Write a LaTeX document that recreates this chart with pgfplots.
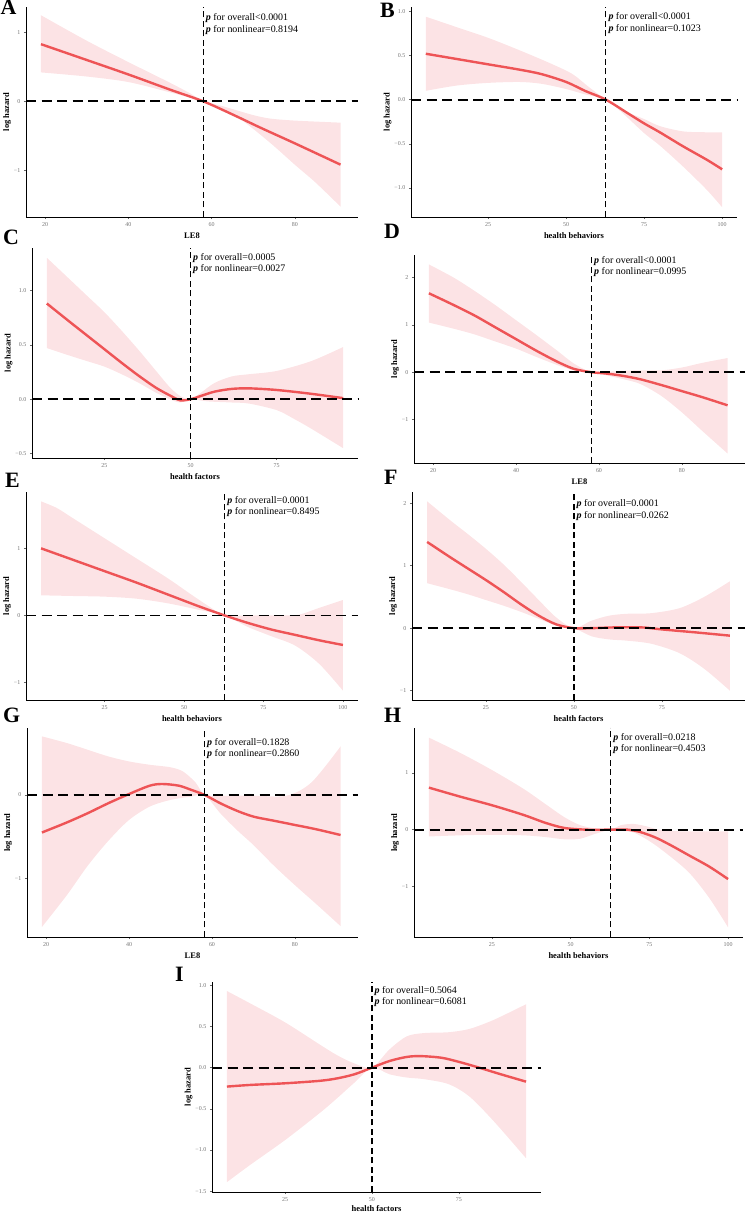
\documentclass[border=0pt]{standalone}
\usepackage{fontspec}
\setmainfont{Liberation Serif}
\usepackage{pgfplots}
\pgfplotsset{compat=1.18}
\usepgfplotslibrary{fillbetween}
\definecolor{rcurve}{RGB}{238,84,86}
\definecolor{rband}{RGB}{252,227,229}
\pgfplotsset{
  rcs/.style={
    scale only axis, anchor=south west,
    axis x line*=bottom, axis y line*=left,
    axis line style={-, line width=0.9bp, black},
    tick align=outside, major tick length=2.2bp,
    every tick/.style={line width=0.5bp, black!60},
    tick label style={font=\fontsize{6}{7}\selectfont, text=black!55},
    ylabel={log hazard},
    ylabel style={font=\bfseries\fontsize{8.5}{10}\selectfont},
    ylabel shift=-4bp,
    xlabel style={font=\bfseries\fontsize{8.5}{10}\selectfont},
    xlabel shift=-1bp,
    clip=false,
  },
}
\tikzset{
  curve/.style={rcurve, line width=2.4bp, smooth},
  band/.style={fill=rband, draw=none},
  hdash/.style={black, line width=1.9bp, dash pattern=on 10bp off 5.5bp},
  vdash/.style={black, line width=1.3bp, dash pattern=on 6bp off 3.5bp},
  ptext/.style={anchor=base west, inner sep=0pt, xshift=2.5bp, font=\fontsize{10}{12}\selectfont},
  plab/.style={anchor=base west, inner sep=0pt, font=\bfseries\fontsize{22}{24}\selectfont},
}
% #1 vline x, #2 ymax, #3 offset1, #4 offset2, #5 text1, #6 text2
\newcommand\ptxt[6]{%
  \node[ptext, yshift=-#3bp] at (axis cs:#1,#2) {\textbf{\textit{p}} for overall#5};
  \node[ptext, yshift=-#4bp] at (axis cs:#1,#2) {\textbf{\textit{p}} for nonlinear#6};
}
\begin{document}
\begin{tikzpicture}
% ---------------- A ----------------
\begin{axis}[rcs, at={(26bp,996bp)}, width=332bp, height=210bp,
  xmin=15.4, xmax=95.2, ymin=-1.68, ymax=1.37,
  xtick={20,40,60,80}, xticklabels={20,40,60,80},
  ytick={-1,0,1}, yticklabels={−1,0,1}, xlabel={LE8}]
\addplot[name path=U, draw=none, smooth] coordinates {(19,1.25) (30,0.88) (40,0.57) (50,0.27) (55,0.11) (58,0) (62,-0.06) (66,-0.13) (70,-0.2) (74,-0.25) (80,-0.28) (91,-0.31)};
\addplot[name path=L, draw=none, smooth] coordinates {(19,0.42) (30,0.36) (40,0.28) (50,0.13) (55,0.05) (58,0) (62,-0.1) (66,-0.22) (70,-0.4) (75,-0.65) (80,-0.92) (85,-1.18) (91,-1.53)};
\addplot[band] fill between[of=U and L];
\addplot[curve] coordinates {(19,0.83) (30,0.6) (40,0.39) (50,0.17) (58,0) (65,-0.19) (72,-0.39) (80,-0.61) (91,-0.92)};
\addplot[hdash] coordinates {(15.4,0) (95.2,0)};
\addplot[vdash] coordinates {(58,-1.68) (58,1.37)};
\ptxt{58}{1.37}{13.5}{25.5}{<0.0001}{=0.8194}
\end{axis}
% ---------------- B ----------------
\begin{axis}[rcs, at={(411bp,996bp)}, width=326bp, height=210bp,
  xmin=0.25, xmax=104.75, ymin=-1.33, ymax=1.05,
  xtick={25,50,75,100}, xticklabels={25,50,75,100},
  ytick={-1,-0.5,0,0.5,1}, yticklabels={−1.0,−0.5,0.0,0.5,1.0}, xlabel={health behaviors}]
\addplot[name path=U, draw=none, smooth] coordinates {(5,0.94) (15,0.82) (25,0.70) (35,0.56) (45,0.41) (52,0.29) (57,0.15) (62.7,0) (68,-0.12) (75,-0.22) (80,-0.3) (87.5,-0.36) (95,-0.37) (100,-0.37)};
\addplot[name path=L, draw=none, smooth] coordinates {(5,0.1) (15,0.16) (25,0.19) (35,0.2) (42,0.18) (50,0.12) (56,0.06) (62.7,0) (68,-0.15) (75,-0.38) (80,-0.52) (87.5,-0.76) (95,-1.02) (100,-1.22)};
\addplot[band] fill between[of=U and L];
\addplot[curve] coordinates {(5,0.52) (15,0.46) (25,0.40) (35,0.34) (42,0.29) (50,0.2) (56,0.1) (62.7,0) (70,-0.16) (75,-0.27) (80,-0.37) (87.5,-0.53) (95,-0.68) (100,-0.79)};
\addplot[hdash] coordinates {(0.25,0) (104.75,0)};
\addplot[vdash] coordinates {(62.7,-1.33) (62.7,1.05)};
\ptxt{62.7}{1.05}{12.2}{24.8}{<0.0001}{=0.1023}
\end{axis}
% ---------------- C ----------------
\begin{axis}[rcs, at={(32bp,755bp)}, width=326bp, height=210bp,
  xmin=4.0, xmax=98.6, ymin=-0.54, ymax=1.39,
  xtick={25,50,75}, xticklabels={25,50,75},
  ytick={-0.5,0,0.5,1}, yticklabels={−0.5,0.0,0.5,1.0}, xlabel={health factors}]
\addplot[name path=U, draw=none, smooth] coordinates {(8.3,1.3) (15,1.1) (20,0.95) (25,0.8) (30,0.63) (35,0.45) (40,0.26) (44,0.11) (47,0.03) (50,0) (53,0.06) (57,0.15) (62,0.21) (67,0.23) (75,0.26) (85,0.35) (94.3,0.48)};
\addplot[name path=L, draw=none, smooth] coordinates {(8.3,0.47) (15,0.4) (20,0.35) (25,0.3) (30,0.23) (35,0.15) (40,0.06) (44,0.0) (47,-0.03) (50,0) (55,-0.02) (62,-0.03) (67,-0.04) (75,-0.1) (80,-0.18) (85,-0.27) (94.3,-0.45)};
\addplot[band] fill between[of=U and L];
\addplot[curve] coordinates {(8.3,0.88) (15,0.71) (20,0.585) (25,0.46) (30,0.335) (35,0.215) (40,0.105) (44,0.035) (47,-0.01) (50,0) (53,0.03) (57,0.07) (62,0.095) (67,0.1) (75,0.085) (85,0.05) (94.3,0.01)};
\addplot[hdash] coordinates {(4,0) (98.6,0)};
\addplot[vdash] coordinates {(50,-0.54) (50,1.39)};
\ptxt{50}{1.39}{12.8}{23.8}{=0.0005}{=0.0027}
\end{axis}
% ---------------- D ----------------
\begin{axis}[rcs, at={(414bp,750bp)}, width=331bp, height=208bp,
  xmin=15.4, xmax=95.2, ymin=-1.92, ymax=2.48,
  xtick={20,40,60,80}, xticklabels={20,40,60,80},
  ytick={-1,0,1,2}, yticklabels={−1,0,1,2}, xlabel={LE8}]
\addplot[name path=U, draw=none, smooth] coordinates {(19,2.28) (25,2.0) (30,1.72) (35,1.42) (40,1.1) (45,0.78) (50,0.45) (54,0.18) (58.2,0) (62,0.01) (66,0.03) (70,0.04) (75,0.04) (80,0.1) (85,0.2) (91,0.3)};
\addplot[name path=L, draw=none, smooth] coordinates {(19,1.05) (25,0.92) (30,0.8) (35,0.65) (40,0.5) (45,0.32) (50,0.15) (54,0.04) (58.2,0) (62,-0.07) (66,-0.15) (70,-0.25) (75,-0.5) (80,-0.85) (85,-1.25) (91,-1.72)};
\addplot[band] fill between[of=U and L];
\addplot[curve] coordinates {(19,1.67) (25,1.42) (30,1.2) (35,0.95) (40,0.7) (45,0.45) (50,0.22) (54,0.07) (58.2,0) (62,-0.03) (66,-0.08) (70,-0.15) (75,-0.27) (80,-0.4) (85,-0.53) (91,-0.7)};
\addplot[hdash] coordinates {(15.4,0) (95.2,0)};
\addplot[vdash] coordinates {(58.2,-1.92) (58.2,2.48)};
\ptxt{58.2}{2.48}{8.2}{19.5}{<0.0001}{=0.0995}
\end{axis}
% ---------------- E ----------------
\begin{axis}[rcs, at={(26bp,513bp)}, width=332bp, height=208bp,
  xmin=0.25, xmax=104.75, ymin=-1.26, ymax=1.84,
  xtick={25,50,75,100}, xticklabels={25,50,75,100},
  ytick={-1,0,1}, yticklabels={−1,0,1}, xlabel={health behaviors}]
\addplot[name path=U, draw=none, smooth] coordinates {(5,1.7) (10,1.6) (15,1.45) (25,1.15) (35,0.85) (45,0.55) (52,0.32) (58,0.13) (62.8,0) (70,0.0) (80,0.0) (86,0.01) (93,0.12) (100,0.23)};
\addplot[name path=L, draw=none, smooth] coordinates {(5,0.3) (15,0.29) (25,0.28) (35,0.25) (45,0.18) (55,0.08) (62.8,0) (70,-0.17) (77.5,-0.31) (85,-0.45) (92.5,-0.72) (100,-1.12)};
\addplot[band] fill between[of=U and L];
\addplot[curve] coordinates {(5,1.0) (15,0.83) (25,0.66) (35,0.49) (45,0.31) (55,0.13) (62.8,0) (70,-0.11) (77.5,-0.21) (85,-0.29) (92.5,-0.37) (100,-0.44)};
\addplot[hdash] coordinates {(0.25,0) (104.75,0)};
\addplot[vdash] coordinates {(62.8,-1.26) (62.8,1.84)};
\ptxt{62.8}{1.84}{11.2}{22.2}{=0.0001}{=0.8495}
\end{axis}
% ---------------- F ----------------
\begin{axis}[rcs, at={(412bp,513bp)}, width=333bp, height=208bp,
  xmin=4.0, xmax=98.6, ymin=-1.15, ymax=2.18,
  xtick={25,50,75}, xticklabels={25,50,75},
  ytick={-1,0,1,2}, yticklabels={−1,0,1,2}, xlabel={health factors}]
\addplot[name path=U, draw=none, smooth] coordinates {(8.3,2.03) (15,1.72) (20,1.5) (25,1.27) (30,1.02) (35,0.74) (40,0.45) (45,0.17) (50,0) (55,0.12) (60,0.2) (65,0.23) (72,0.24) (80,0.32) (87,0.5) (94.3,0.75)};
\addplot[name path=L, draw=none, smooth] coordinates {(8.3,0.72) (15,0.62) (20,0.54) (25,0.45) (30,0.36) (35,0.26) (40,0.15) (45,0.04) (50,0) (55,-0.13) (60,-0.18) (65,-0.2) (72,-0.25) (80,-0.4) (87,-0.65) (94.3,-1.0)};
\addplot[band] fill between[of=U and L];
\addplot[curve] coordinates {(8.3,1.38) (15,1.13) (20,0.95) (25,0.77) (30,0.58) (35,0.38) (40,0.2) (45,0.06) (50,0) (55,0.0) (60,0.01) (65,0.015) (70,0.01) (75,-0.02) (85,-0.07) (94.3,-0.12)};
\addplot[hdash] coordinates {(4,0) (98.6,0)};
\addplot[vdash] coordinates {(50,-1.15) (50,2.18)};
\ptxt{50}{2.18}{14.8}{26.2}{=0.0001}{=0.0262}
\end{axis}
% ---------------- G ----------------
\begin{axis}[rcs, at={(27bp,276bp)}, width=331bp, height=209bp,
  xmin=15.4, xmax=95.2, ymin=-1.70, ymax=0.80,
  xtick={20,40,60,80}, xticklabels={20,40,60,80},
  ytick={-1,0}, yticklabels={−1,0}, xlabel={LE8}]
\addplot[name path=U, draw=none, smooth] coordinates {(19,0.70) (25,0.62) (30,0.54) (35,0.46) (40,0.40) (45,0.36) (50,0.33) (53,0.28) (56,0.15) (58.2,0) (62,-0.01) (70,-0.01) (78,-0.01) (84,0.15) (91,0.58)};
\addplot[name path=L, draw=none, smooth] coordinates {(19,-1.58) (25,-1.2) (30,-0.85) (35,-0.55) (40,-0.3) (45,-0.14) (50,-0.06) (55,-0.02) (58.2,0) (62,-0.22) (66,-0.42) (70,-0.6) (75,-0.85) (80,-1.08) (85,-1.3) (91,-1.57)};
\addplot[band] fill between[of=U and L];
\addplot[curve] coordinates {(19,-0.45) (25,-0.33) (30,-0.22) (35,-0.1) (40,0.01) (45,0.11) (48,0.13) (52,0.11) (55,0.06) (58.2,0) (62,-0.1) (66,-0.19) (70,-0.26) (75,-0.31) (80,-0.36) (85,-0.41) (91,-0.48)};
\addplot[hdash] coordinates {(15.4,0) (95.2,0)};
\addplot[vdash] coordinates {(58.2,-1.70) (58.2,0.80)};
\ptxt{58.2}{0.80}{17.2}{28.8}{=0.1828}{=0.2860}
\end{axis}
% ---------------- H ----------------
\begin{axis}[rcs, at={(414bp,276bp)}, width=329bp, height=209bp,
  xmin=0.25, xmax=104.75, ymin=-1.89, ymax=1.79,
  xtick={25,50,75,100}, xticklabels={25,50,75,100},
  ytick={-1,0,1}, yticklabels={−1,0,1}, xlabel={health behaviors}]
\addplot[name path=U, draw=none, smooth] coordinates {(5,1.62) (15,1.35) (25,1.05) (35,0.72) (42,0.45) (48,0.22) (53,0.08) (58,0.02) (62.7,0) (66,0.08) (70,0.1) (74,0.06) (78,0.0) (85,-0.03) (92,-0.03) (100,-0.03)};
\addplot[name path=L, draw=none, smooth] coordinates {(5,-0.12) (15,-0.1) (25,-0.09) (35,-0.1) (42,-0.13) (48,-0.17) (53,-0.16) (58,-0.07) (62.7,0) (66,-0.02) (70,-0.05) (75,-0.2) (80,-0.4) (87.5,-0.75) (94,-1.2) (100,-1.72)};
\addplot[band] fill between[of=U and L];
\addplot[curve] coordinates {(5,0.74) (15,0.58) (25,0.43) (35,0.26) (42,0.12) (48,0.03) (55,0.0) (62.7,0) (68,0.0) (72,-0.04) (77,-0.14) (82,-0.28) (87.5,-0.45) (94,-0.65) (100,-0.87)};
\addplot[hdash] coordinates {(0.25,0) (104.75,0)};
\addplot[vdash] coordinates {(62.7,-1.89) (62.7,1.79)};
\ptxt{62.7}{1.79}{12.2}{23.2}{=0.0218}{=0.4503}
\end{axis}
% ---------------- I ----------------
\begin{axis}[rcs, at={(212bp,21bp)}, width=329bp, height=210bp,
  xmin=4.0, xmax=98.6, ymin=-1.51, ymax=1.04,
  xtick={25,50,75}, xticklabels={25,50,75},
  ytick={-1.5,-1,-0.5,0,0.5,1}, yticklabels={−1.5,−1.0,−0.5,0.0,0.5,1.0}, xlabel={health factors},
  xlabel shift=-3bp]
\addplot[name path=U, draw=none, smooth] coordinates {(8.3,0.93) (15,0.78) (25,0.55) (35,0.28) (40,0.15) (45,0.05) (50,0) (55,0.22) (60,0.38) (65,0.42) (72,0.43) (78,0.47) (85,0.58) (94.3,0.77)};
\addplot[name path=L, draw=none, smooth] coordinates {(8.3,-1.39) (15,-1.18) (25,-0.88) (35,-0.55) (40,-0.37) (45,-0.18) (50,0) (55,-0.08) (60,-0.12) (65,-0.14) (72,-0.2) (78,-0.35) (85,-0.65) (94.3,-1.1)};
\addplot[band] fill between[of=U and L];
\addplot[curve] coordinates {(8.3,-0.23) (15,-0.21) (25,-0.19) (35,-0.16) (40,-0.13) (45,-0.08) (50,0) (55,0.08) (60,0.13) (64,0.14) (70,0.12) (75,0.07) (80,0.01) (87,-0.08) (94.3,-0.17)};
\addplot[hdash] coordinates {(4,0) (98.6,0)};
\addplot[vdash] coordinates {(50,-1.51) (50,1.04)};
\ptxt{50}{1.04}{11.2}{22.8}{=0.5064}{=0.6081}
\end{axis}
% panel letters
\node[plab] at (0.5bp,1198bp) {A};
\node[plab] at (380bp,1195bp) {B};
\node[plab] at (3bp,968bp) {C};
\node[plab] at (384bp,974bp) {D};
\node[plab] at (5bp,725bp) {E};
\node[plab] at (384bp,728bp) {F};
\node[plab] at (3bp,490bp) {G};
\node[plab] at (384bp,490bp) {H};
\node[plab] at (175bp,231bp) {I};
\pgfresetboundingbox
\path[use as bounding box] (0,0) rectangle (745bp,1213bp);
\end{tikzpicture}
\end{document}
